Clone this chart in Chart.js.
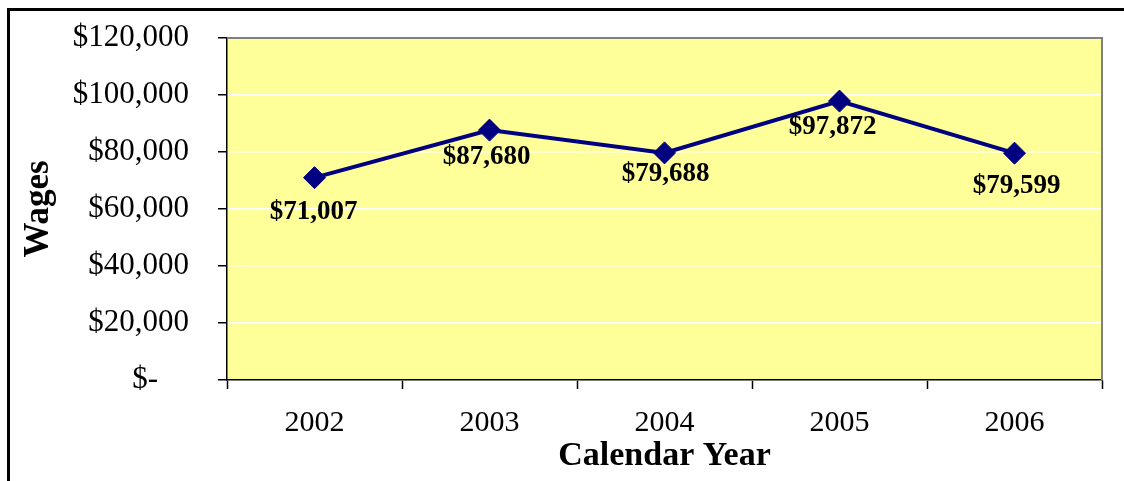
<!DOCTYPE html>
<html>
<head>
<meta charset="utf-8">
<script src="https://cdn.jsdelivr.net/npm/chart.js@4.4.0/dist/chart.umd.min.js"></script>
<style>
    html, body { margin: 0; padding: 0; background: #fff; overflow: hidden; }
    #frame {
        position: absolute; left: 7px; top: 8px;
        width: 1300px; height: 700px;
        border-top: 3px solid #000; border-left: 3px solid #000;
    }
    #wrap { position: absolute; left: 0; top: 0; width: 1124px; height: 481px; }
</style>
</head>
<body>
<div id="frame"></div>
<div id="wrap"><canvas id="wagesChart" width="1124" height="481"></canvas></div>
<script>
// Chart data
const years = ['2002', '2003', '2004', '2005', '2006'];
const wages = [71007, 87680, 79688, 97872, 79599];
const yTicks = [0, 20000, 40000, 60000, 80000, 100000, 120000];

// nudges for the value labels (dx, dy from the point)
const labelNudge = [[-1, 34], [-3, 27], [1, 21], [-7, 26], [2, 33]];

const serif = "'Liberation Serif', 'Times New Roman', serif";

const money = v => '$' + v.toLocaleString('en-US');

// yellow plot area with grey top/right edge
const plotArea = {
    id: 'plotArea',
    beforeDraw(chart) {
        const { ctx, chartArea: a } = chart;
        ctx.save();
        ctx.fillStyle = '#ffff99';
        ctx.fillRect(a.left, a.top, a.right - a.left, a.bottom - a.top);
        ctx.restore();
    },
    beforeDatasetsDraw(chart) {
        const { ctx, chartArea: a } = chart;
        ctx.save();
        ctx.strokeStyle = '#808080';
        ctx.lineWidth = 2;
        ctx.beginPath();
        ctx.moveTo(a.left, a.top);
        ctx.lineTo(a.right, a.top);
        ctx.lineTo(a.right, a.bottom);
        ctx.stroke();
        ctx.restore();
    }
};

// value labels under each point
const valueLabels = {
    id: 'valueLabels',
    afterDatasetsDraw(chart) {
        const { ctx } = chart;
        const meta = chart.getDatasetMeta(0);
        ctx.save();
        ctx.font = 'bold 27px ' + serif;
        ctx.fillStyle = '#000';
        ctx.textAlign = 'center';
        ctx.textBaseline = 'middle';
        meta.data.forEach((pt, i) => {
            const [dx, dy] = labelNudge[i];
            ctx.fillText(money(wages[i]), pt.x + dx, pt.y + dy);
        });
        ctx.restore();
    }
};

const ctx = document.getElementById('wagesChart').getContext('2d');
const chart = new Chart(ctx, {
    type: 'line',
    data: {
        labels: years,
        datasets: [{
            label: 'Wages',
            data: wages,
            borderColor: '#000080',
            borderWidth: 4,
            backgroundColor: '#000080',
            pointStyle: 'rectRot',
            pointRadius: 11,
            pointHoverRadius: 11,
            pointBorderColor: '#000080',
            pointBackgroundColor: '#000080',
            pointBorderWidth: 1,
            tension: 0
        }]
    },
    options: {
        responsive: false,
        animation: false,
        layout: { padding: { left: 0, top: 38, right: 22, bottom: 0 } },
        plugins: {
            legend: { display: false },
            tooltip: { enabled: false }
        },
        scales: {
            x: {
                offset: true,
                afterFit: s => { s.height = 101; },
                grid: {
                    offset: true,
                    drawOnChartArea: false,
                    tickLength: 9,
                    tickColor: '#000',
                    tickWidth: 1.5
                },
                border: { color: '#000', width: 1.5 },
                ticks: {
                    color: '#000',
                    padding: 16,
                    font: { family: serif, size: 30 }
                },
                title: {
                    display: true,
                    text: 'Calendar Year',
                    color: '#000',
                    font: { family: serif, size: 34, weight: 'bold', lineHeight: 1 },
                    padding: { top: 0, bottom: 8 }
                }
            },
            y: {
                min: 0,
                max: 120000,
                afterFit: s => {
                    s.width = 227;
                    s.paddingTop = 0;
                    s.paddingBottom = 0;
                },
                afterBuildTicks: s => { s.ticks = yTicks.map(v => ({ value: v })); },
                grid: {
                    color: '#ffffff',
                    lineWidth: 1.5,
                    tickLength: 9,
                    tickColor: '#000',
                    tickWidth: 1.5
                },
                border: { color: '#000', width: 1.5 },
                ticks: {
                    color: '#000',
                    padding: 29,
                    font: { family: serif, size: 31 },
                    callback: v => v === 0 ? '$-    ' : money(v)
                },
                title: {
                    display: true,
                    text: 'Wages',
                    color: '#000',
                    font: { family: serif, size: 35, weight: 'bold', lineHeight: 1 },
                    padding: { top: 21, bottom: 0 }
                }
            }
        }
    },
    plugins: [plotArea, valueLabels]
});
</script>
</body>
</html>
